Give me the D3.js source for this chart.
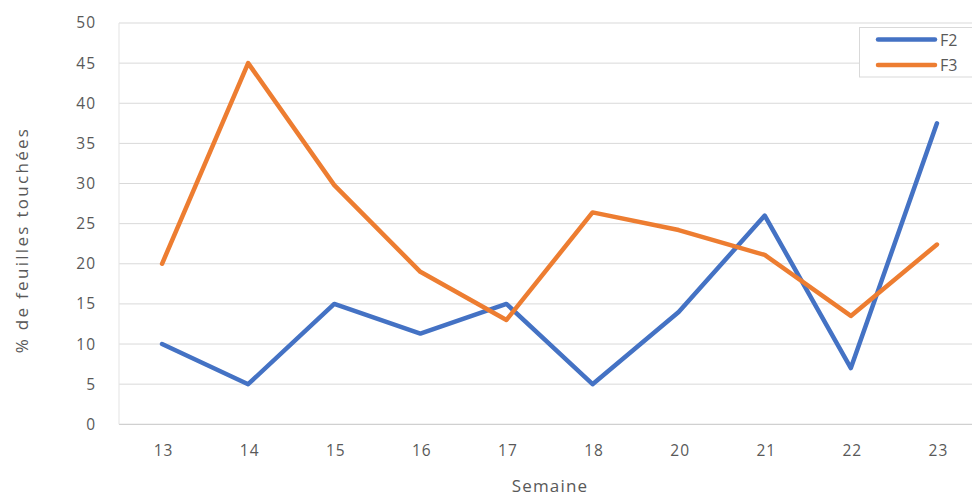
<!DOCTYPE html>
<html>
<head>
<meta charset="utf-8">
<script src="https://cdn.jsdelivr.net/npm/d3@7"></script>
<style>
  html, body { margin: 0; padding: 0; background: #fff; overflow: hidden; }
  svg { display: block; font-family: "Open Sans", "Noto Sans", sans-serif; }
</style>
</head>
<body>
<svg id="chart" width="972" height="497"></svg>
<script>
// Weekly share of affected leaves for two plots
const weeks = ["13", "14", "15", "16", "17", "18", "20", "21", "22", "23"];
const f2 = [10, 5, 15, 11.3, 15, 5, 14, 26, 7, 37.5];
const f3 = [20, 45, 29.8, 19, 13, 26.4, 24.2, 21.1, 13.5, 22.4];
const yTicks = [0, 5, 10, 15, 20, 25, 30, 35, 40, 45, 50];
const seriesNames = ["F2", "F3"];
const seriesColors = ["#4472C4", "#ED7D31"];

const svg = d3.select("#chart");
const plot = { left: 119, right: 980, top: 23, bottom: 424.3 };

const x = d3.scalePoint().domain(weeks).range([plot.left, plot.right]).padding(0.5);
const y = d3.scaleLinear().domain([0, 50]).range([plot.bottom, plot.top]);

// horizontal gridlines
svg.append("g")
  .selectAll("line")
  .data(yTicks.filter(t => t > 0))
  .join("line")
  .attr("x1", plot.left).attr("x2", plot.right)
  .attr("y1", d => y(d)).attr("y2", d => y(d))
  .attr("stroke", "#d9d9d9").attr("stroke-width", 1);

// axis lines
svg.append("line")
  .attr("x1", plot.left).attr("x2", plot.right)
  .attr("y1", y(0)).attr("y2", y(0))
  .attr("stroke", "#d0d0d0").attr("stroke-width", 1.2);
svg.append("line")
  .attr("x1", plot.left).attr("x2", plot.left)
  .attr("y1", y(50)).attr("y2", y(0))
  .attr("stroke", "#e3e3e3").attr("stroke-width", 1);

const tickStyle = sel => sel
  .attr("fill", "#595959")
  .style("font-size", "15.5px")
  .style("letter-spacing", "1px")
  .style("font-family", "'Open Sans', sans-serif");

// y tick labels
const yAxis = d3.axisLeft(y).tickValues(yTicks).tickSize(0).tickPadding(0);
const gy = svg.append("g").attr("transform", "translate(96,0)").call(yAxis);
gy.select(".domain").remove();
gy.selectAll("text").call(tickStyle);

// x tick labels
const xAxis = d3.axisBottom(x).tickSize(0).tickPadding(0);
const gx = svg.append("g").attr("transform", "translate(1,445)").call(xAxis);
gx.select(".domain").remove();
gx.selectAll("text").call(tickStyle);

// axis titles
svg.append("text")
  .attr("x", 550).attr("y", 492)
  .attr("text-anchor", "middle")
  .attr("fill", "#595959").style("font-size", "17px")
  .style("letter-spacing", "1.2px")
  .text("Semaine");
svg.append("text")
  .attr("transform", "translate(28,240) rotate(-90)")
  .attr("text-anchor", "middle")
  .attr("fill", "#595959").style("font-size", "17px")
  .style("letter-spacing", "2.3px")
  .text("% de feuilles touchées");

// series lines
const line = d3.line()
  .x((d, i) => x(weeks[i]))
  .y(d => y(d));

[f2, f3].forEach((vals, k) => {
  svg.append("path")
    .datum(vals)
    .attr("d", line)
    .attr("fill", "none")
    .attr("stroke", seriesColors[k])
    .attr("stroke-width", 4.5)
    .attr("stroke-linejoin", "round")
    .attr("stroke-linecap", "round");
});

// legend
const legend = svg.append("g");
legend.append("rect")
  .attr("x", 859.5).attr("y", 27.5)
  .attr("width", 130).attr("height", 49.5)
  .attr("fill", "#fff").attr("stroke", "#d9d9d9");
seriesNames.forEach((name, k) => {
  const ly = 39.5 + k * 25.5;
  legend.append("line")
    .attr("x1", 878).attr("x2", 935)
    .attr("y1", ly).attr("y2", ly)
    .attr("stroke", seriesColors[k]).attr("stroke-width", 4.5)
    .attr("stroke-linecap", "round");
  legend.append("text")
    .attr("x", 940).attr("y", ly + 6)
    .attr("fill", "#595959").style("font-size", "16px")
    .text(name);
});
</script>
</body>
</html>
